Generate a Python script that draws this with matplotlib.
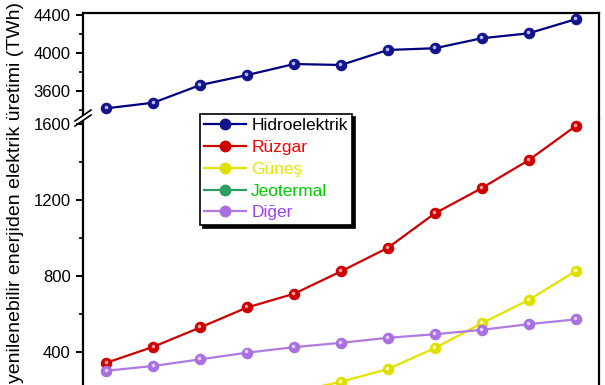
import matplotlib
matplotlib.use("Agg")
import matplotlib.pyplot as plt
import matplotlib.transforms as mtransforms
from matplotlib.lines import Line2D
from matplotlib.patches import Polygon

plt.rcParams['font.family'] = ['Liberation Sans', 'DejaVu Sans']

years = [2010, 2011, 2012, 2013, 2014, 2015, 2016, 2017, 2018, 2019, 2020]
hidroelektrik = [3418, 3477, 3663, 3768, 3884, 3874, 4032, 4050, 4155, 4207, 4355]
ruzgar = [344, 428, 530, 635, 707, 825, 949, 1130, 1263, 1410, 1589]
gunes = [32, 63, 100, 136, 190, 244, 311, 421, 552, 674, 826]
jeotermal = [68, 70, 71, 72, 77, 80, 82, 85, 89, 92, 94]
diger = [302, 327, 362, 397, 426, 449, 475, 494, 517, 547, 572]

series_names = ["Hidroelektrik", "Rüzgar", "Güneş", "Jeotermal", "Diğer"]
line_colors = ["#000080", "#cc0000", "#e3e300", "#2e9e60", "#b07ae0"]
face_colors = ["#14148a", "#cc0000", "#e0e000", "#2e9e60", "#a970e0"]
hi_colors = ["#b8b8ff", "#ff9a9a", "#ffffb0", "#a0e8c0", "#e6d0ff"]
text_colors = ["#000000", "#ff0000", "#e6e600", "#00cc00", "#a040ff"]
ylabel = "yenilenebilir enerjiden elektrik üretimi (TWh)"
top_ticks = [3600, 4000, 4400]
bot_ticks = [400, 800, 1200, 1600]

W, H = 605, 385
fig = plt.figure(figsize=(W / 100, H / 100), dpi=100)

left = 83 / W
width = (599 - 83) / W
y_top = 1 - 13 / H
y_brk = 1 - 118 / H
y_bot = (H - 428.1) / H

ax_top = fig.add_axes([left, y_brk, width, y_top - y_brk])
ax_bot = fig.add_axes([left, y_bot, width, y_brk - y_bot])

ax_top.set_ylim(3316, 4421)
ax_bot.set_ylim(0, 1632)
for ax in (ax_top, ax_bot):
    ax.set_xlim(2009.5, 2020.5)
    for s in ax.spines.values():
        s.set_linewidth(1.6)
    ax.tick_params(axis='y', which='major', direction='out', length=5, width=1.4,
                   labelsize=12, pad=4)
    ax.tick_params(axis='y', which='minor', direction='out', length=3, width=1.2)
    ax.tick_params(axis='x', which='both', bottom=False, top=False, labelbottom=False)
    ax.patch.set_visible(False)

ax_top.spines['bottom'].set_visible(False)
ax_bot.spines['top'].set_visible(False)
ax_top.set_yticks(top_ticks)
ax_top.set_yticks([3400, 3800, 4200], minor=True)
ax_bot.set_yticks(bot_ticks)
ax_bot.set_yticks([200, 600, 1000, 1400], minor=True)

all_data = [hidroelektrik, ruzgar, gunes, jeotermal, diger]
handles = []
for i, (name, vals) in enumerate(zip(series_names, all_data)):
    ax = ax_top if i == 0 else ax_bot
    ax.plot(years, vals, '-', color=line_colors[i], lw=1.6, marker='o', ms=7.5,
            mfc=face_colors[i], mec=face_colors[i], mew=0.8, zorder=3)
    off = mtransforms.offset_copy(ax.transData, fig=fig, x=-0.8, y=1.2, units='dots')
    ax.plot(years, vals, 'o', ms=2.6, color=hi_colors[i], mec='none', transform=off,
            zorder=4)
    handles.append(Line2D([], [], color=line_colors[i], lw=1.6, marker='o', ms=7.5,
                          mfc=face_colors[i], mec=face_colors[i]))

# axis break marks on left axis
bx, by = 83, 118
dx, dy = 8, 5.5
gap = 5
fig.patches.append(Polygon([(x / W, 1 - y / H) for x, y in
                            [(bx - dx + 3, by + dy - gap / 2 - 3), (bx + dx - 3, by - dy - gap / 2 + 3),
                             (bx + dx - 3, by - dy + gap / 2 + 3), (bx - dx + 3, by + dy + gap / 2 - 3)]],
                           closed=True, transform=fig.transFigure, facecolor='white',
                           edgecolor='none', zorder=5))
for off_g in (-gap / 2, gap / 2):
    fig.add_artist(Line2D([(bx - dx) / W, (bx + dx) / W],
                          [1 - (by + dy + off_g) / H, 1 - (by - dy + off_g) / H],
                          transform=fig.transFigure, color='black', lw=1.2, zorder=6))

fig.text(16 / W, 1 - 2 / H, ylabel, rotation=90, va='top', ha='center', fontsize=14)

leg = fig.legend(handles, series_names, loc='upper left',
                 bbox_to_anchor=(200 / W, 1 - 114 / H), bbox_transform=fig.transFigure,
                 fontsize=12.5, handlelength=2.4, handletextpad=0.3, borderpad=0.25,
                 labelspacing=0.38, borderaxespad=0, fancybox=False,
                 edgecolor='black', framealpha=1,
                 shadow={'color': 'black', 'alpha': 1})
leg.get_frame().set_linewidth(1.2)
for t, c in zip(leg.get_texts(), text_colors):
    t.set_color(c)

fig.savefig("out.png", dpi=100)
